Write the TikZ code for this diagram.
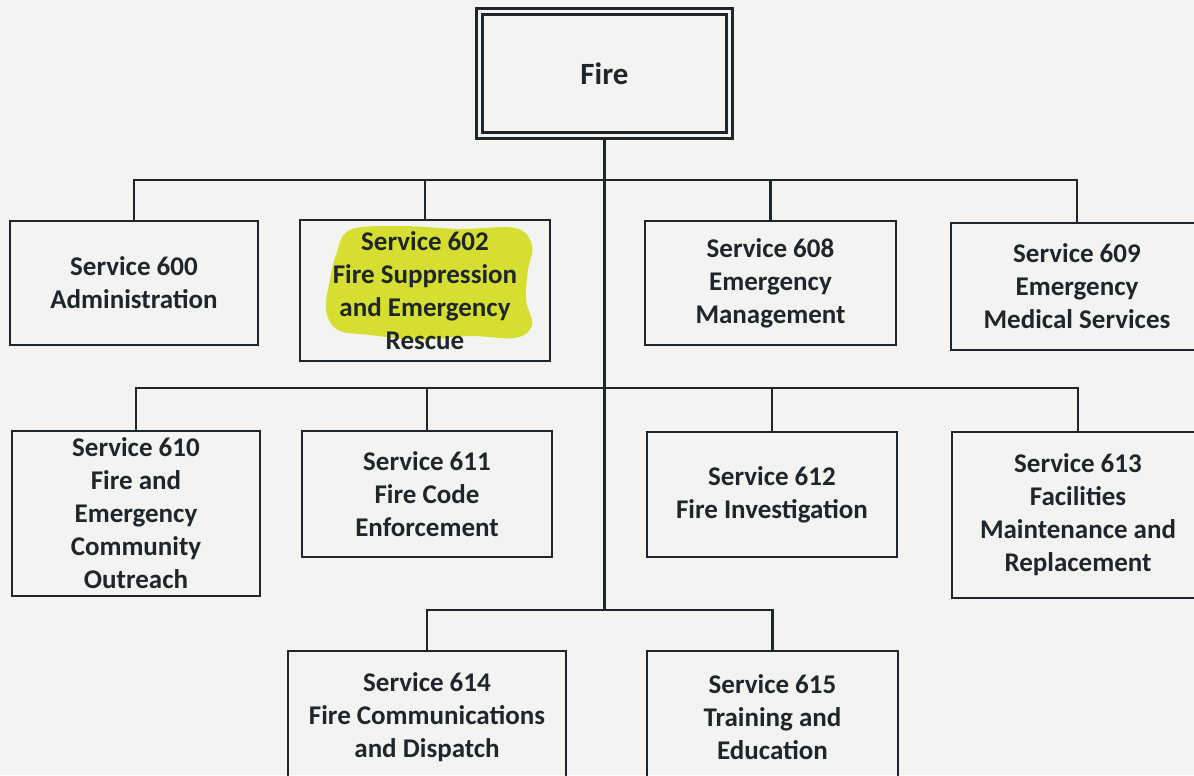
\documentclass[tikz,border=0pt]{standalone}
\usepackage{fontspec}
\setmainfont{Carlito}
\usetikzlibrary{positioning,calc}

\definecolor{ink}{RGB}{30,38,44}
\definecolor{paper}{RGB}{243,243,242}
\definecolor{marker}{RGB}{214,222,50}

\begin{document}
\begin{tikzpicture}[%
    x=0.025cm,
    y=-0.025cm,
    color=ink,
    line width=2pt,
    service/.style={%
      rectangle,
      draw,
      inner sep=0pt,
      align=center,
      font=\fontsize{19.2}{23.5}\selectfont\bfseries
    },
    head/.style={%
      service,
      double=paper,
      double distance=2.5pt,
      font=\fontsize{22}{26}\selectfont\bfseries
    }
  ]
    \useasboundingbox (0,0) rectangle (1194,775);
    \fill[paper] (0,0) rectangle (1194,775);

    % highlighter behind 602
    \fill[marker] plot[smooth cycle, tension=0.6] coordinates {
      (350,230) (400,226) (460,229) (515,228) (532,245) (528,270)
      (526,300) (532,325) (515,338) (470,336) (420,340) (370,335)
      (338,330) (326,310) (330,280) (336,255)};

    \node[head, minimum width=6.25cm, minimum height=3.1cm] (Fire) at (604.5,73.5) {Fire};

    \node[service, minimum width=6.2cm, minimum height=3.1cm] (600) at (134,283) {Service 600\\Administration};
    \node[service, minimum width=6.25cm, minimum height=3.525cm] (602) at (425,290.5) {Service 602\\Fire Suppression\\and Emergency\\Rescue};
    \node[service, minimum width=6.275cm, minimum height=3.1cm] (608) at (770.5,283) {Service 608\\Emergency\\Management};
    \node[service, minimum width=6.3cm, minimum height=3.175cm] (609) at (1077,286.5) {Service 609\\Emergency\\Medical Services};

    \node[service, minimum width=6.2cm, minimum height=4.125cm] (610) at (136,513.5) {Service 610\\Fire and\\Emergency\\Community\\Outreach};
    \node[service, minimum width=6.25cm, minimum height=3.15cm] (611) at (427,494) {Service 611\\Fire Code\\Enforcement};
    \node[service, minimum width=6.25cm, minimum height=3.125cm] (612) at (772,494.5) {Service 612\\Fire Investigation};
    \node[service, minimum width=6.3cm, minimum height=4.15cm] (613) at (1078,515) {Service 613\\Facilities\\Maintenance and\\Replacement};

    \node[service, minimum width=6.95cm, minimum height=3.3cm] (614) at (427,717) {Service 614\\Fire Communications\\and Dispatch};
    \node[service, minimum width=6.275cm, minimum height=3.3cm] (615) at (772.5,717) {Service 615\\Training and\\Education};

    \coordinate (Top) at (604.5,180);
    \coordinate (Mid) at (604.5,388);
    \coordinate (Low) at (604.5,610);

    \draw (Fire.south) -- (Low);
    \draw (Top) -| (600.north) (Top) -| (602.north)
          (Top) -| (608.north) (Top) -| (609.north);
    \draw (Mid) -| (610.north) (Mid) -| (611.north)
          (Mid) -| (612.north) (Mid) -| (613.north);
    \draw (Low) -| (614.north) (Low) -| (615.north);
\end{tikzpicture}
\end{document}
